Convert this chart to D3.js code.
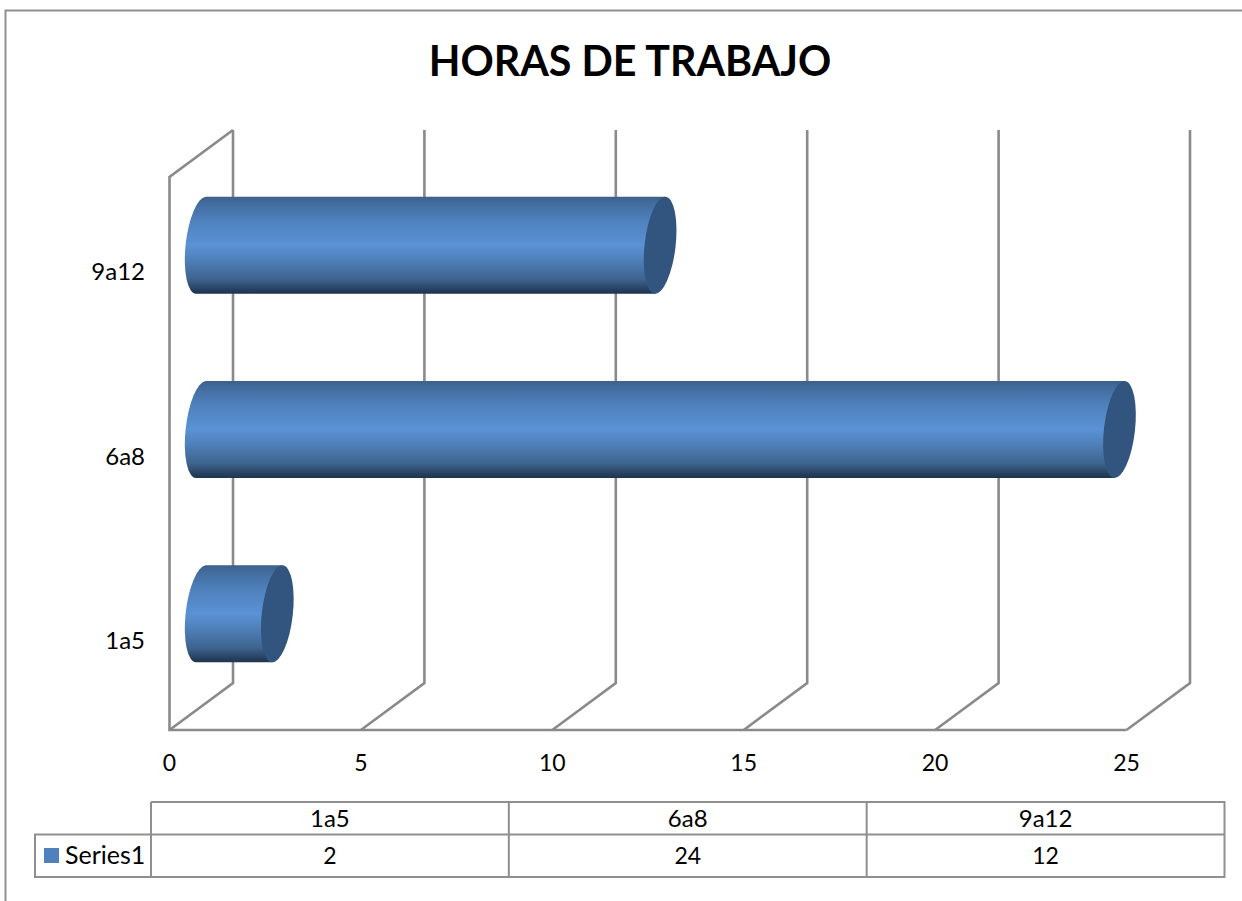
<!DOCTYPE html>
<html><head><meta charset="utf-8">
<script src="https://cdnjs.cloudflare.com/ajax/libs/d3/7.8.5/d3.min.js"></script>
<style>html,body{margin:0;padding:0;background:#fff}svg{display:block}text{font-family:Lato,"Open Sans",sans-serif;fill:#000}</style>
</head><body><svg id="c" width="1242" height="901"></svg>
<script>
const title = "HORAS DE TRABAJO";
const categories = ["1a5", "6a8", "9a12"];
const seriesName = "Series1";
const values = [2, 24, 12];
const xTicks = [0, 5, 10, 15, 20, 25];

const svg = d3.select("#c");
const grid = "#8a8a8a";
const x = d3.scaleLinear().domain([0, 25]).range([169.5, 1126.5]);
const y = d3.scaleBand().domain(categories.slice().reverse()).range([177, 730]);
const dx = 63.5, dy = -47;
const barH = 97, rx = 15.5, ry = 48.8, rot = 6.5, skew = 4.9;

const defs = svg.append("defs");
const g = defs.append("linearGradient").attr("id", "cyl").attr("x1", 0).attr("y1", 0).attr("x2", 0).attr("y2", 1);
[[0, "#3c6089"], [0.06, "#416b9c"], [0.25, "#4f81bd"], [0.5, "#5a92d6"], [0.65, "#4f80b9"], [0.85, "#3e648f"], [0.96, "#263f5e"], [1, "#1f344e"]]
  .forEach(s => g.append("stop").attr("offset", s[0]).attr("stop-color", s[1]));

svg.append("path").attr("d", "M5.5,901V10.5H1242").attr("fill", "none").attr("stroke", "#8f8f8f").attr("stroke-width", 2);

const walls = svg.append("g").attr("fill", "none").attr("stroke", grid).attr("stroke-width", 2.6);
xTicks.forEach(t => {
  const p = d3.path();
  p.moveTo(x(t), 730); p.lineTo(x(t) + dx, 730 + dy); p.lineTo(x(t) + dx, 177 + dy);
  walls.append("path").attr("d", p.toString());
});
const w = d3.path();
w.moveTo(x(0) + dx, 177 + dy); w.lineTo(x(0), 177); w.lineTo(x(0), 730); w.lineTo(x(25), 730);
walls.append("path").attr("d", w.toString());

const midX = v => x(v) + dx / 2 - 0.5;
const midY = c => y(c) + y.bandwidth() / 2 + dy / 2 - 0.5;

const bars = svg.append("g").selectAll("g").data(categories.map((c, i) => ({ c, v: values[i] }))).join("g");
bars.append("path").attr("fill", "url(#cyl)").attr("d", d => {
  const c = midY(d.c), t = c - barH / 2, b = c + barH / 2, x0 = midX(0), x1 = midX(d.v);
  return `M${x0 + skew},${t}L${x1 + skew},${t}L${x1 - skew},${b}L${x0 - skew},${b}A${rx},${ry} ${rot} 0 1 ${x0 + skew},${t}Z`;
});
bars.append("ellipse").attr("fill", "#32557f")
  .attr("rx", rx).attr("ry", ry)
  .attr("transform", d => `translate(${midX(d.v)},${midY(d.c)}) rotate(${rot})`);

svg.append("g").selectAll("text").data(categories).join("text")
  .attr("x", 145).attr("y", c => y(c) + y.bandwidth() / 2 + 11).attr("text-anchor", "end")
  .attr("font-size", 24).text(c => c);
svg.append("g").selectAll("text").data(xTicks).join("text")
  .attr("x", t => x(t)).attr("y", 771).attr("text-anchor", "middle")
  .attr("font-size", 23).text(t => t);

svg.append("text").attr("x", 630).attr("y", 76).attr("text-anchor", "middle")
  .attr("font-size", 41.2).attr("font-weight", 700).text(title);

// data table
const col = d3.scaleBand().domain(categories).range([151, 1224.5]);
const T = svg.append("g").attr("fill", "none").attr("stroke", "#8f8f8f").attr("stroke-width", 2);
const tblTop = 802, tblMid = 834.5, tblBot = 877, legLeft = 35;
T.append("path").attr("d", `M${col.range()[0]},${tblTop}H${col.range()[1]}V${tblBot}H${legLeft}V${tblMid}H${col.range()[1]}`);
categories.forEach(c => T.append("path").attr("d", `M${col(c)},${tblTop}V${tblBot}`));
const tt = svg.append("g").attr("text-anchor", "middle").attr("font-size", 24);
tt.selectAll(".h").data(categories).join("text").attr("class", "h")
  .attr("x", c => col(c) + col.bandwidth() / 2).attr("y", 827).text(c => c);
tt.selectAll(".v").data(values).join("text").attr("class", "v")
  .attr("x", (v, i) => col(categories[i]) + col.bandwidth() / 2).attr("y", 864).attr("font-size", 23).text(v => v);
svg.append("rect").attr("x", 44).attr("y", 848).attr("width", 15).attr("height", 15).attr("fill", "#4f81bd");
svg.append("text").attr("x", 65).attr("y", 864).attr("font-size", 25).text(seriesName);
</script></body></html>
